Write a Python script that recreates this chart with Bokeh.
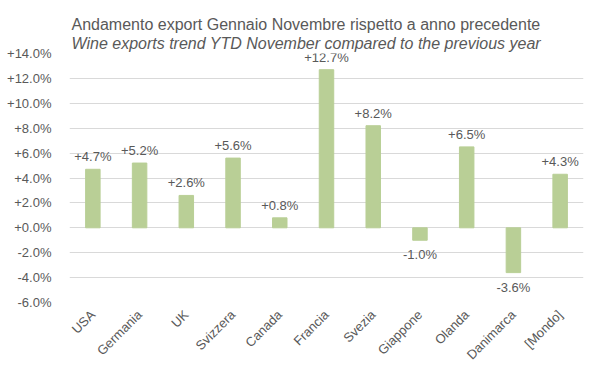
import math
from bokeh.plotting import figure
from bokeh.models import ColumnDataSource, Title, FixedTicker, CustomJSTickFormatter, Range1d
from bokeh.core.properties import value
from bokeh.embed import file_html
from bokeh.resources import INLINE

countries = ["USA", "Germania", "UK", "Svizzera", "Canada", "Francia", "Svezia",
             "Giappone", "Olanda", "Danimarca", "[Mondo]"]
changes = [4.7, 5.2, 2.6, 5.6, 0.8, 12.7, 8.2, -1.0, 6.5, -3.6, 4.3]
y_ticks = [-6, -4, -2, 0, 2, 4, 6, 8, 10, 12, 14]

labels = [("+%.1f%%" % v) if v >= 0 else ("%.1f%%" % v) for v in changes]
src = ColumnDataSource(dict(x=countries, top=changes))

pos_src = ColumnDataSource(dict(x=[c for c, v in zip(countries, changes) if v >= 0],
                                y=[v for v in changes if v >= 0],
                                lab=[l for l, v in zip(labels, changes) if v >= 0]))
neg_src = ColumnDataSource(dict(x=[c for c, v in zip(countries, changes) if v < 0],
                                y=[v for v in changes if v < 0],
                                lab=[l for l, v in zip(labels, changes) if v < 0]))

TXT = "#595959"
FONT = "Liberation Sans"

p = figure(x_range=countries, y_range=Range1d(-6, 14), width=590, height=370,
           output_backend="svg", toolbar_location=None,
           min_border_left=69, min_border_right=7, min_border_top=53, min_border_bottom=65)
p.outline_line_color = None

p.vbar(x="x", top="top", bottom=0, width=0.31, source=src, color="#B9CF96")

p.text(x="x", y="y", text="lab", source=pos_src, y_offset=-5,
       text_align="center", text_baseline="bottom", text_color=TXT,
       text_font=value(FONT), text_font_size="13px")
p.text(x="x", y="y", text="lab", source=neg_src, y_offset=7,
       text_align="center", text_baseline="top", text_color=TXT,
       text_font=value(FONT), text_font_size="13px")

p.yaxis.ticker = FixedTicker(ticks=y_ticks)
p.yaxis.formatter = CustomJSTickFormatter(code="""
    return (tick >= 0 ? '+' : '') + tick.toFixed(1) + '%';
""")
for ax in (p.xaxis, p.yaxis):
    ax.axis_line_color = None
    ax.major_tick_line_color = None
    ax.minor_tick_line_color = None
    ax.major_label_text_color = TXT
    ax.major_label_text_font = FONT
    ax.major_label_text_font_size = "13px"
p.yaxis.major_label_standoff = 12
p.xaxis.major_label_orientation = math.pi / 4
p.xaxis.major_label_standoff = 4

p.xgrid.grid_line_color = None
p.ygrid.grid_line_color = "#D9D9D9"
p.ygrid.ticker = FixedTicker(ticks=y_ticks)

p.add_layout(Title(text="Wine exports trend YTD November compared to the previous year",
                   align="left", offset=2, text_font=FONT,
                   text_font_style="italic", text_font_size="16px",
                   text_color=TXT, standoff=3), "above")
p.add_layout(Title(text="Andamento export Gennaio Novembre rispetto a anno precedente",
                   align="left", offset=2, text_font=FONT,
                   text_font_style="normal", text_font_size="16px",
                   text_color=TXT, standoff=-2), "above")

open("out.html", "w").write(file_html(p, INLINE))
